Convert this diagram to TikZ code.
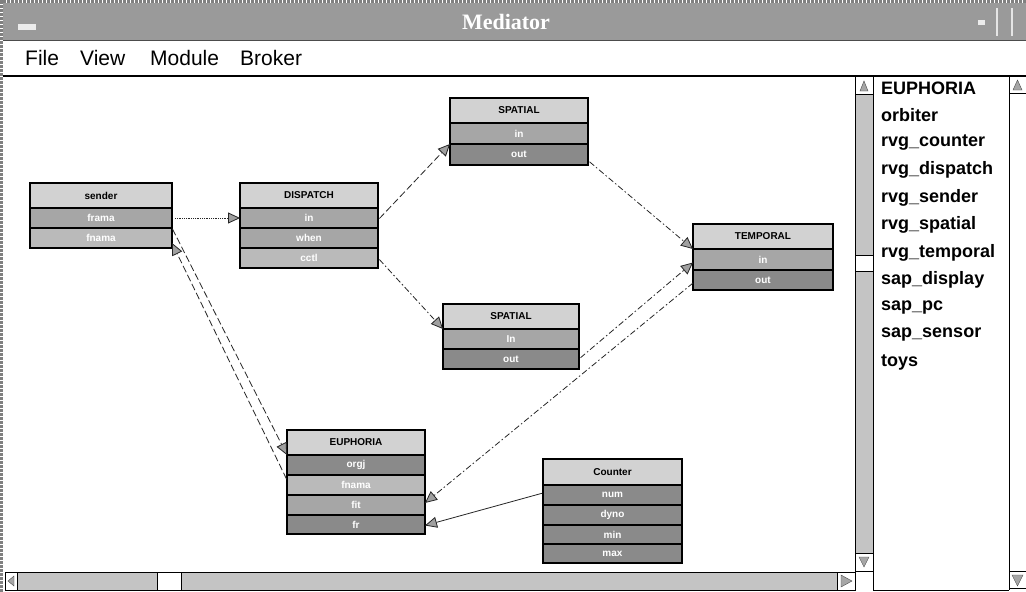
\documentclass[tikz,border=0pt]{standalone}
\usepackage{fontspec}
\setsansfont{Liberation Sans}
\setmainfont{Liberation Serif}
\usetikzlibrary{arrows.meta,calc}
\definecolor{titlegray}{HTML}{9A9A9A}
\definecolor{trackgray}{HTML}{C4C4C4}
\definecolor{hdrgray}{HTML}{D2D2D2}
\definecolor{rowmid}{HTML}{A6A6A6}
\definecolor{rowlight}{HTML}{BABABA}
\definecolor{rowdark}{HTML}{8A8A8A}
\definecolor{arrowgray}{HTML}{A0A0A0}
\tikzset{
  cell/.style={draw=black, line width=1.2pt, inner sep=0pt, outer sep=0pt, anchor=north west,
    font=\sffamily\bfseries\fontsize{10}{11}\selectfont, text=white},
  hdr/.style={cell, fill=hdrgray, text=black, minimum height=25pt},
  rowm/.style={cell, fill=rowmid, minimum height=20pt},
  rowl/.style={cell, fill=rowlight, minimum height=20pt},
  rowd/.style={cell, fill=rowdark, minimum height=20pt},
  conn/.style={line width=0.8pt, draw=black!85, -{Triangle[length=12pt,width=11pt,fill=arrowgray]}},
  dashdot/.style={dash pattern=on 6pt off 2.5pt on 1.5pt off 2.5pt},
  longdash/.style={dash pattern=on 7pt off 3pt},
  menu/.style={anchor=west, inner sep=0pt, font=\sffamily\fontsize{21}{24}\selectfont},
  listitem/.style={anchor=west, inner sep=0pt, font=\sffamily\bfseries\fontsize{18}{20}\selectfont},
  sbox/.style={draw=black, line width=1pt, fill=white},
  tri/.style={fill=gray!70, draw=black!70, line width=0.4pt}
}
\begin{document}
\begin{tikzpicture}[x=1pt,y=-1pt]
\useasboundingbox (0,0) rectangle (1026,592);
\fill[white] (0,0) rectangle (1026,592);
% window border
\draw[gray, line width=3pt, densely dotted] (1.5,592) -- (1.5,1.5) -- (1026,1.5);
% title bar
\fill[titlegray] (3,3) rectangle (1026,40);
\draw[black!70, line width=0.8pt] (3,40) -- (1026,40);
\node[font=\rmfamily\bfseries\fontsize{22}{24}\selectfont, text=white, inner sep=0pt] (title) at (506,22) {Mediator};
\fill[white!85!gray] (18,24) rectangle (36,30);
\fill[white!85!gray] (978,20) rectangle (985,25);
\draw[white!80!gray, line width=1.2pt] (997,8) -- (997,36);
\draw[white!80!gray, line width=1.2pt] (1012,8) -- (1012,36);
% menu
\node[menu] (mFile) at (25,58) {File};
\node[menu] (mView) at (80,58) {View};
\node[menu] (mModule) at (150,58) {Module};
\node[menu] (mBroker) at (240,58) {Broker};
\draw[black, line width=1.2pt] (3,76) -- (1026,76);
% vertical scrollbar of canvas
\fill[trackgray] (855,76) rectangle (873,571);
\draw[black, line width=1pt] (855,76) -- (855,571) (873,76) -- (873,590);
\node[sbox, minimum width=18pt, minimum height=18pt, inner sep=0pt, anchor=north west] (vsUp) at (855,76) {};
\fill[tri] (860,91) -- (864,81) -- (868,91) -- cycle;
\node[sbox, minimum width=18pt, minimum height=18pt, inner sep=0pt, anchor=north west] (vsDown) at (855,553) {};
\fill[tri] (859,557) -- (869,557) -- (864,567) -- cycle;
\node[sbox, minimum width=18pt, minimum height=16pt, inner sep=0pt, anchor=north west] (vsThumb) at (855,255) {};
% horizontal scrollbar
\fill[trackgray] (5,572) rectangle (855,590);
\draw[black, line width=1pt] (5,572) rectangle (855,590);
\node[sbox, minimum width=12pt, minimum height=18pt, inner sep=0pt, anchor=north west] (hsLeft) at (5,572) {};
\fill[tri] (14,576) -- (8,581) -- (14,586) -- cycle;
\node[sbox, minimum width=24pt, minimum height=18pt, inner sep=0pt, anchor=north west] (hsThumb) at (157,572) {};
\node[sbox, minimum width=18pt, minimum height=18pt, inner sep=0pt, anchor=north west] (hsRight) at (837,572) {};
\fill[tri] (841,575) -- (852,581) -- (841,587) -- cycle;
% list panel
\draw[black, line width=1pt] (873,590) -- (1009,590);
\draw[black, line width=1pt] (1009,76) -- (1009,590);
\node[sbox, minimum width=17pt, minimum height=17pt, inner sep=0pt, anchor=north west] (lsUp) at (1009,76) {};
\fill[tri] (1013,90) -- (1017.5,80) -- (1022,90) -- cycle;
\node[sbox, minimum width=17pt, minimum height=17pt, inner sep=0pt, anchor=north west] (lsDown) at (1009,571) {};
\fill[tri] (1012,575) -- (1023,575) -- (1017.5,586) -- cycle;
\foreach \t [count=\i from 0] in {EUPHORIA,orbiter,rvg\_counter,rvg\_dispatch,rvg\_sender,rvg\_spatial,rvg\_temporal,sap\_display,sap\_pc,sap\_sensor,toys}
  \node[listitem] (li\i) at (881,88+27.4*\i) {\t};
% ---- boxes ----
% sender
\node[hdr, minimum width=142pt] (sndH) at (30,183) {sender};
\node[rowm, minimum width=142pt] (sndFrama) at (sndH.south west) {frama};
\node[rowl, minimum width=142pt] (sndFnama) at (sndFrama.south west) {fnama};
% DISPATCH
\node[hdr, minimum width=138pt] (dspH) at (240,183) {DISPATCH};
\node[rowm, minimum width=138pt] (dspIn) at (dspH.south west) {in};
\node[rowm, minimum width=138pt] (dspWhen) at (dspIn.south west) {when};
\node[rowl, minimum width=138pt] (dspCctl) at (dspWhen.south west) {cctl};
% SPATIAL top
\node[hdr, minimum width=138pt] (sp1H) at (450,98) {SPATIAL};
\node[rowm, minimum width=138pt, minimum height=21pt] (sp1In) at (sp1H.south west) {in};
\node[rowd, minimum width=138pt, minimum height=21pt] (sp1Out) at (sp1In.south west) {out};
% SPATIAL bottom
\node[hdr, minimum width=136pt] (sp2H) at (443,304) {SPATIAL};
\node[rowm, minimum width=136pt] (sp2In) at (sp2H.south west) {In};
\node[rowd, minimum width=136pt] (sp2Out) at (sp2In.south west) {out};
% TEMPORAL
\node[hdr, minimum width=140pt] (tmpH) at (693,224) {TEMPORAL};
\node[rowm, minimum width=140pt, minimum height=21pt] (tmpIn) at (tmpH.south west) {in};
\node[rowd, minimum width=140pt] (tmpOut) at (tmpIn.south west) {out};
% EUPHORIA
\node[hdr, minimum width=138pt] (eupH) at (287,430) {EUPHORIA};
\node[rowd, minimum width=138pt] (eupOrgj) at (eupH.south west) {orgj};
\node[rowl, minimum width=138pt] (eupFnama) at (eupOrgj.south west) {fnama};
\node[rowm, minimum width=138pt] (eupFit) at (eupFnama.south west) {fit};
\node[rowd, minimum width=138pt, minimum height=19pt] (eupFr) at (eupFit.south west) {fr};
% Counter
\node[hdr, minimum width=139pt, minimum height=26pt] (cntH) at (543,459) {Counter};
\node[rowd, minimum width=139pt] (cntNum) at (cntH.south west) {num};
\node[rowd, minimum width=139pt] (cntDyno) at (cntNum.south west) {dyno};
\node[rowd, minimum width=139pt, minimum height=19pt] (cntMin) at (cntDyno.south west) {min};
\node[rowd, minimum width=139pt, minimum height=19pt] (cntMax) at (cntMin.south west) {max};
% ---- connectors ----
\draw[conn, densely dotted, shorten <=3pt] (sndFrama.east) -- (dspIn.west);
\draw[conn, longdash, shorten <=2pt] ([yshift=-2pt]dspIn.east) -- (sp1In.south west);
\draw[conn, dashdot, shorten <=2pt] (dspCctl.east) -- (sp2H.south west);
\draw[conn, dashdot, shorten <=2pt] ([yshift=-6pt]sp1Out.east) -- (tmpH.south west);
\draw[conn, dashdot, shorten <=2pt] (sp2Out.east) -- ([yshift=-3pt]tmpIn.west);
\draw[conn, dashdot] ([yshift=-3pt]tmpOut.west) -- ([yshift=2pt]eupFit.east);
\draw[conn, shorten <=1pt] ([yshift=2pt]cntNum.west) -- ([yshift=-1pt]eupFr.east);
\draw[conn, longdash, shorten <=1pt] (sndFrama.south east) -- (eupOrgj.north west);
\draw[conn, longdash, shorten <=1pt] ([yshift=-5pt]eupFnama.north west) -- ([yshift=-5pt]sndFnama.east);
\end{tikzpicture}
\end{document}
